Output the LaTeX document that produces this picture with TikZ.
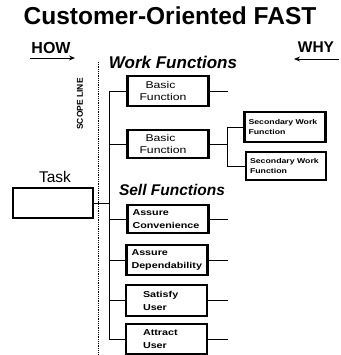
\documentclass[tikz,border=0pt]{standalone}
\usepackage{fontspec}
\setmainfont{Liberation Sans}
\newfontfamily\boxfont[FakeStretch=1.25]{Liberation Sans}
\usetikzlibrary{arrows.meta}

\begin{document}
\begin{tikzpicture}[x=1pt,y=-1pt]
      \useasboundingbox(0,0) rectangle (340,355);
      \tikzset{B/.style = {draw, line width=2.2pt, minimum width=81pt, minimum height=30pt, inner ysep=0pt, align=left}}
      \tikzset{E/.style = {draw, line width=0.9pt}}
      \tikzset{W/.style = {font=\boxfont\fontsize{9.8}{12}\selectfont}}
      \tikzset{S/.style = {font=\boxfont\bfseries\fontsize{8.6}{13}\selectfont}}
      \tikzset{T/.style = {font=\boxfont\bfseries\fontsize{7}{10.5}\selectfont}}
      % headings
      \node(title) at (170,16) {\bfseries\fontsize{24.5}{27}\selectfont Customer-Oriented FAST};
      \node(how) at (51,48) {\bfseries\fontsize{16}{17}\selectfont HOW};
      \node(why) at (316,47) {\bfseries\fontsize{15.5}{17}\selectfont WHY};
      \coordinate(hows) at (30,58);
      \coordinate(howe) at (75,58);
      \coordinate(whys) at (339,59);
      \coordinate(whye) at (294,59);
      \draw[E,-{Stealth[length=6pt,width=5pt]}](hows) to (howe);
      \draw[E,-{Stealth[length=6pt,width=5pt]}](whys) to (whye);
      % scope line
      \coordinate(scopet) at (98.5,62);
      \coordinate(scopeb) at (98.5,355);
      \draw[line width=0.8pt,densely dotted](scopet) to (scopeb);
      \node[rotate=90](scope) at (80,104) {\bfseries\fontsize{8.5}{9}\selectfont SCOPE LINE};
      \node(work) at (173,62) {\bfseries\itshape\fontsize{17}{19}\selectfont Work Functions};
      \node(sell) at (172,190) {\bfseries\itshape\fontsize{15.5}{17}\selectfont Sell Functions};
      % boxes
      \node(tasklbl) at (55,177) {\fontsize{15.5}{17}\selectfont Task};
      \node[B,minimum width=80pt](task) at (53,203) {};
      \node[B,W,inner xsep=12pt,text width=57pt](bf1) at (168,91) {\hspace*{6pt}Basic\\Function};
      \node[B,W,inner xsep=12pt,text width=57pt,minimum height=28pt](bf2) at (168,144) {\hspace*{6pt}Basic\\Function};
      \node[B,T,inner xsep=4pt,text width=73pt](sw1) at (285,127) {Secondary Work\\Function};
      \node[B,T,inner xsep=4pt,text width=72pt,minimum width=80pt,minimum height=28pt](sw2) at (286,166) {Secondary Work\\Function};
      \node[B,S,inner xsep=5pt,text width=71pt,minimum height=28pt](ac) at (168,219) {Assure\\Convenience};
      \node[B,S,inner xsep=5pt,text width=71pt](ad) at (167,260) {Assure\\Dependability};
      \node[B,S,inner xsep=17pt,text width=47pt,minimum height=31pt](su) at (166.5,300.5) {Satisfy\\User};
      \node[B,S,inner xsep=17pt,text width=47pt](au) at (166.5,339) {Attract\\User};
      % connectors
      \coordinate(bus) at (109,0);
      \coordinate(stub) at (228,0);
      \coordinate(fork) at (227,0);
      \draw[E](bf1.west) -| (bus |- au.west) -- (au.west);
      \foreach \n in {bf2,ac,ad,su}
        \draw[E](bus |- \n.west) to (\n.west);
      \draw[E](task.east) to (bus |- task.east);
      \foreach \n in {bf1,ac,ad,su,au}
        \draw[E](\n.east) to (stub |- \n.east);
      \draw[E](bf2.east) to (fork |- bf2.east);
      \draw[E](sw1.west) -| (fork |- sw2.west) -- (sw2.west);
    \end{tikzpicture}
\end{document}
